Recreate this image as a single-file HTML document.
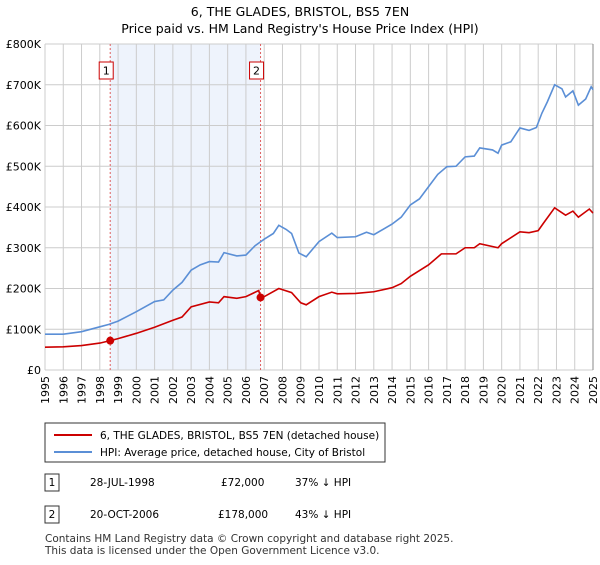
<!DOCTYPE html>
<html><head><meta charset="utf-8"><style>
body{margin:0;background:#fff;font-family:"Liberation Sans","DejaVu Sans",sans-serif;}
svg text{font-family:"DejaVu Sans","Liberation Sans",sans-serif;}
</style></head><body>
<svg id="c" width="600" height="560" viewBox="0 0 600 560" xmlns="http://www.w3.org/2000/svg">
<text x="300" y="16" text-anchor="middle" font-size="12.5">6, THE GLADES, BRISTOL, BS5 7EN</text>
<text x="300" y="33" text-anchor="middle" font-size="12.5">Price paid vs. HM Land Registry's House Price Index (HPI)</text>
<g id="plot"></g>
<g>
<rect x="45" y="423" width="340" height="39" fill="#fff" stroke="#333" stroke-width="1"/>
<line x1="54" y1="435" x2="92" y2="435" stroke="#cc0000" stroke-width="2"/>
<text x="100" y="439" font-size="10.5">6, THE GLADES, BRISTOL, BS5 7EN (detached house)</text>
<line x1="54" y1="452" x2="92" y2="452" stroke="#5b8fd6" stroke-width="2"/>
<text x="100" y="456" font-size="10.5">HPI: Average price, detached house, City of Bristol</text>
</g>
<g font-size="10.5">
<rect x="45" y="474" width="14" height="17" fill="#fff" stroke="#333"/><text x="52" y="486" text-anchor="middle">1</text>
<text x="90" y="486">28-JUL-1998</text><text x="221" y="486">£72,000</text><text x="295" y="486">37% ↓ HPI</text>
<rect x="45" y="506" width="14" height="17" fill="#fff" stroke="#333"/><text x="52" y="518" text-anchor="middle">2</text>
<text x="90" y="518">20-OCT-2006</text><text x="218" y="518">£178,000</text><text x="295" y="518">43% ↓ HPI</text>
</g>
<text x="45" y="542" font-size="10.5" fill="#333">Contains HM Land Registry data © Crown copyright and database right 2025.</text>
<text x="45" y="554" font-size="10.5" fill="#333">This data is licensed under the Open Government Licence v3.0.</text>
</svg>
<script>
const hpiYears=[1995,1996,1997,1998,1998.5,1999,2000,2001,2001.5,2002,2002.5,2003,2003.5,2004,2004.5,2004.8,2005.5,2006,2006.5,2007,2007.5,2007.8,2008.2,2008.5,2008.9,2009.3,2010,2010.7,2011,2012,2012.6,2013,2014,2014.5,2015,2015.5,2016,2016.5,2017,2017.5,2018,2018.5,2018.8,2019.5,2019.8,2020,2020.5,2021,2021.5,2021.9,2022.2,2022.5,2022.9,2023.3,2023.5,2023.9,2024.2,2024.6,2024.9,2025];
const hpiValues=[88,88,94,106,112,120,143,168,172,196,215,245,258,266,265,288,280,282,305,321,335,355,345,335,287,278,315,336,325,327,338,332,358,375,405,420,450,480,499,500,523,525,545,540,532,552,560,594,588,595,630,658,700,690,670,685,650,665,695,688];
const priceYears=[1995,1996,1997,1998,1998.57,1999,2000,2001,2002,2002.5,2003,2004,2004.5,2004.8,2005.5,2006,2006.7,2006.8,2007,2007.8,2008.5,2009,2009.3,2010,2010.7,2011,2012,2013,2014,2014.5,2015,2016,2016.7,2017.5,2018,2018.5,2018.8,2019.8,2020,2021,2021.5,2022,2022.3,2022.9,2023.5,2023.9,2024.2,2024.8,2025];
const priceValues=[56,57,60,66,72,77,90,105,122,130,155,167,165,180,176,180,195,178,180,200,190,165,160,180,191,187,188,192,202,212,230,258,285,285,300,300,310,300,310,339,337,342,361,398,380,390,375,395,385];
const saleYears=[1998.57,2006.8];
const saleValues=[72,178];
const saleLabels=["1","2"];
const yTicks=[0,100,200,300,400,500,600,700,800];
const yTickLabels=["£0","£100K","£200K","£300K","£400K","£500K","£600K","£700K","£800K"];
const xTicks=[1995,1996,1997,1998,1999,2000,2001,2002,2003,2004,2005,2006,2007,2008,2009,2010,2011,2012,2013,2014,2015,2016,2017,2018,2019,2020,2021,2022,2023,2024,2025];

const L=45,R=593,T=44,B=370;
const X=y=>L+(y-1995)/30*(R-L);
const Y=v=>B-v/800*(B-T);
const NS="http://www.w3.org/2000/svg";
const g=document.getElementById('plot');
function mk(t,a){const e=document.createElementNS(NS,t);for(const k in a)e.setAttribute(k,a[k]);g.appendChild(e);return e;}
let e=mk('rect',{x:X(saleYears[0]),y:T,width:X(saleYears[1])-X(saleYears[0]),height:B-T,fill:'#eef3fc'});


xTicks.forEach(t=>{
  const l=mk('line',{x1:X(t),x2:X(t),y1:T,y2:B,stroke:'#cccccc','stroke-width':1});
  
  
  const tx=mk('text',{x:0,y:0,'font-size':11,'text-anchor':'end',transform:`translate(${X(t)+4},${B+6}) rotate(-90)`});
  tx.textContent=t;
  
  
});
yTicks.forEach((t,i)=>{
  const l=mk('line',{x1:L,x2:R,y1:Y(t),y2:Y(t),stroke:'#cccccc','stroke-width':1});
  
  
  const tx=mk('text',{x:L-4,y:Y(t)+4,'font-size':11,'text-anchor':'end'});
  tx.textContent=yTickLabels[i];
  
  
});
e=mk('line',{x1:R,x2:R,y1:T,y2:B,stroke:'#888','stroke-width':1});


saleYears.forEach((s,i)=>{
  const l=mk('line',{x1:X(s),x2:X(s),y1:T,y2:B,stroke:'#e06060','stroke-width':1,'stroke-dasharray':'2,2'});
  
  
  const r=mk('rect',{x:X(s)-11,y:62,width:14,height:17,fill:'#fff',stroke:'#cc0000'});
  
  
  const tx=mk('text',{x:X(s)-4,y:74.5,'font-size':11,'text-anchor':'middle'});
  tx.textContent=saleLabels[i];
  
  
});
e=mk('polyline',{points:hpiYears.map((y,i)=>X(y)+','+Y(hpiValues[i])).join(' '),fill:'none',stroke:'#5b8fd6','stroke-width':1.6});


e=mk('polyline',{points:priceYears.map((y,i)=>X(y)+','+Y(priceValues[i])).join(' '),fill:'none',stroke:'#cc0000','stroke-width':1.6});


saleYears.forEach((s,i)=>{
  const c=mk('circle',{cx:X(s),cy:Y(saleValues[i]),r:4,fill:'#cc0000'});
  
  
});
</script>
</body></html>
